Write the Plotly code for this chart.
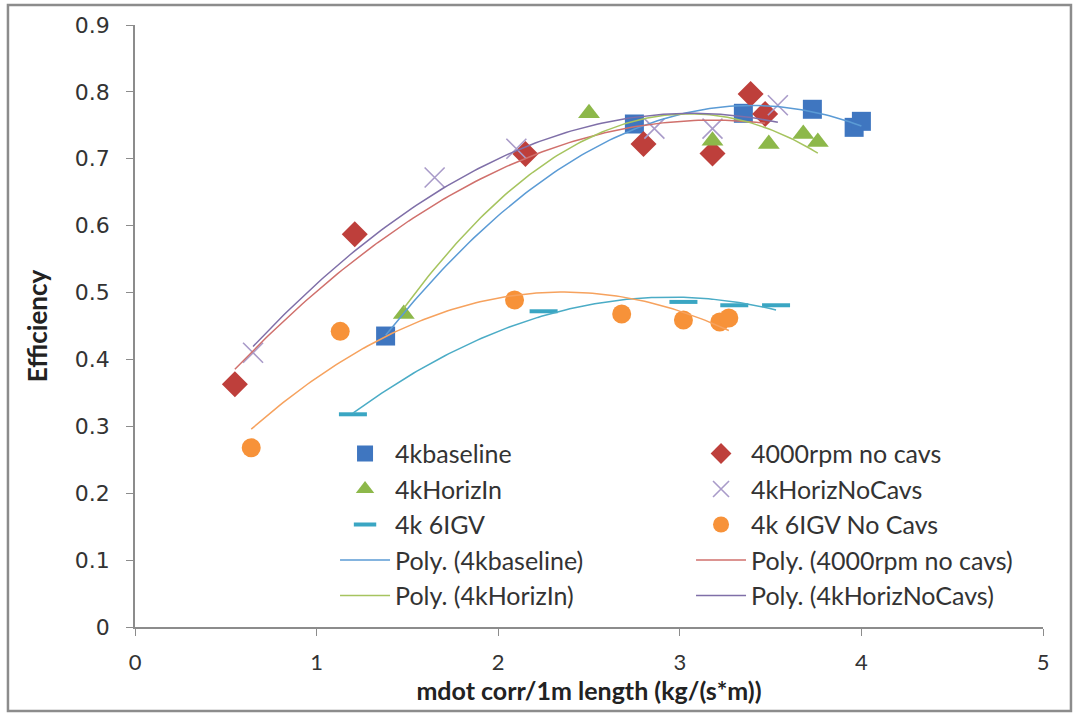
import numpy as np
import plotly.graph_objects as go

# ---- data ----
base_x = [1.38, 2.75, 3.35, 3.73, 3.96, 4.00]
base_y = [0.435, 0.752, 0.768, 0.774, 0.747, 0.756]

rpm_x = [0.55, 1.21, 2.15, 2.80, 3.18, 3.39, 3.47]
rpm_y = [0.363, 0.587, 0.707, 0.722, 0.708, 0.797, 0.767]

horiz_x = [1.48, 2.50, 3.18, 3.49, 3.68, 3.76]
horiz_y = [0.468, 0.768, 0.727, 0.722, 0.737, 0.725]

hnc_x = [0.65, 1.65, 2.10, 2.86, 3.18, 3.54]
hnc_y = [0.410, 0.672, 0.715, 0.745, 0.745, 0.780]

igv_x = [1.20, 2.25, 3.02, 3.30, 3.53]
igv_y = [0.318, 0.472, 0.486, 0.481, 0.481]

igvnc_x = [0.64, 1.13, 2.09, 2.68, 3.02, 3.22, 3.27]
igvnc_y = [0.268, 0.442, 0.489, 0.468, 0.459, 0.456, 0.462]

x_ticks = [0, 1, 2, 3, 4, 5]
x_labels = ["0", "1", "2", "3", "4", "5"]
y_ticks = [0, 0.1, 0.2, 0.3, 0.4, 0.5, 0.6, 0.7, 0.8, 0.9]
y_labels = ["0", "0.1", "0.2", "0.3", "0.4", "0.5", "0.6", "0.7", "0.8", "0.9"]

FONT = "Lato"
TXT = "#333333"
AXC = "#8C8C8C"

def poly_fit(xs, ys, order=2, n=120):
    c = np.polyfit(xs, ys, order)
    gx = np.linspace(min(xs), max(xs), n)
    return gx, np.polyval(c, gx)

fig = go.Figure()

# scatter series
fig.add_trace(go.Scatter(x=base_x, y=base_y, mode="markers", name="4kbaseline",
                         marker=dict(symbol="square", size=19, color="#3F76C0")))
fig.add_trace(go.Scatter(x=rpm_x, y=rpm_y, mode="markers", name="4000rpm no cavs",
                         marker=dict(symbol="diamond", size=20, color="#BE3F3B")))
fig.add_trace(go.Scatter(x=horiz_x, y=horiz_y, mode="markers", name="4kHorizIn",
                         marker=dict(symbol="triangle-up", size=19, color="#8DB84A")))
fig.add_trace(go.Scatter(x=hnc_x, y=hnc_y, mode="markers", name="4kHorizNoCavs",
                         marker=dict(symbol="x-thin-open", size=20, color="#A99BC9",
                                     line=dict(color="#A99BC9", width=1.6))))
fig.add_trace(go.Scatter(x=igv_x, y=igv_y, mode="markers", name="4k 6IGV",
                         marker=dict(symbol="line-ew-open", size=20, color="#3AA6C3",
                                     line=dict(color="#3AA6C3", width=4))))
fig.add_trace(go.Scatter(x=igvnc_x, y=igvnc_y, mode="markers", name="4k 6IGV No Cavs",
                         marker=dict(symbol="circle", size=19, color="#F79239")))

# trendlines (2nd-order polynomial fits, like Excel)
trend = [
    (base_x, base_y, "Poly. (4kbaseline)", "#5B9BD5", True),
    (rpm_x, rpm_y, "Poly. (4000rpm no cavs)", "#D0706C", True),
    (horiz_x, horiz_y, "Poly. (4kHorizIn)", "#A6C45F", True),
    (hnc_x, hnc_y, "Poly. (4kHorizNoCavs)", "#7F6FA8", True),
    (igv_x, igv_y, "Poly. (4k 6IGV)", "#4BACC6", False),
    (igvnc_x, igvnc_y, "Poly. (4k 6IGV No Cavs)", "#F6A25E", False),
]
for xs, ys, nm, col, show in trend:
    gx, gy = poly_fit(xs, ys)
    fig.add_trace(go.Scatter(x=gx, y=gy, mode="lines", name=nm, showlegend=show,
                             line=dict(color=col, width=1.5)))

fig.update_layout(
    width=1078, height=717,
    margin=dict(l=135, r=35, t=25, b=90),
    paper_bgcolor="white", plot_bgcolor="white",
    font=dict(family=FONT, size=22, color=TXT),
    legend=dict(orientation="h", x=0.2203, y=0.326, xanchor="left", yanchor="top",
                bgcolor="rgba(255,255,255,0)", font=dict(size=25, color=TXT),
                entrywidth=291, itemwidth=50, traceorder="normal"),
    showlegend=True,
    shapes=[dict(type="rect", xref="paper", yref="paper",
                 x0=-0.1399, x1=1.0308, y0=-0.1395, y1=1.0332,
                 line=dict(color=AXC, width=2.5), fillcolor="rgba(0,0,0,0)", layer="below")],
)
fig.update_xaxes(range=[0, 5], tickvals=x_ticks, ticktext=x_labels, showgrid=False, zeroline=False,
                 showline=True, linecolor=AXC, linewidth=1.5, automargin=False,
                 ticks="outside", ticklen=7, tickcolor=AXC, ticklabelstandoff=8,
                 tickfont=dict(family=FONT, size=22, color=TXT),
                 title=dict(text="<b>mdot corr/1m length (kg/(s*m))</b>", font=dict(size=25, color="#222222"),
                            standoff=6))
fig.update_yaxes(range=[0, 0.9], tickvals=y_ticks, ticktext=y_labels, showgrid=False, zeroline=False,
                 showline=True, linecolor=AXC, linewidth=1.5, automargin=False,
                 ticks="outside", ticklen=7, tickcolor=AXC, ticklabelstandoff=12,
                 tickfont=dict(family="DejaVu Sans", size=22, color=TXT),
                 title=dict(text="<b>Efficiency</b>", font=dict(size=26, color="#222222"), standoff=20))

fig.write_html("out.html", config={"displayModeBar": False},
               post_script="document.body.style.margin='0px';")
